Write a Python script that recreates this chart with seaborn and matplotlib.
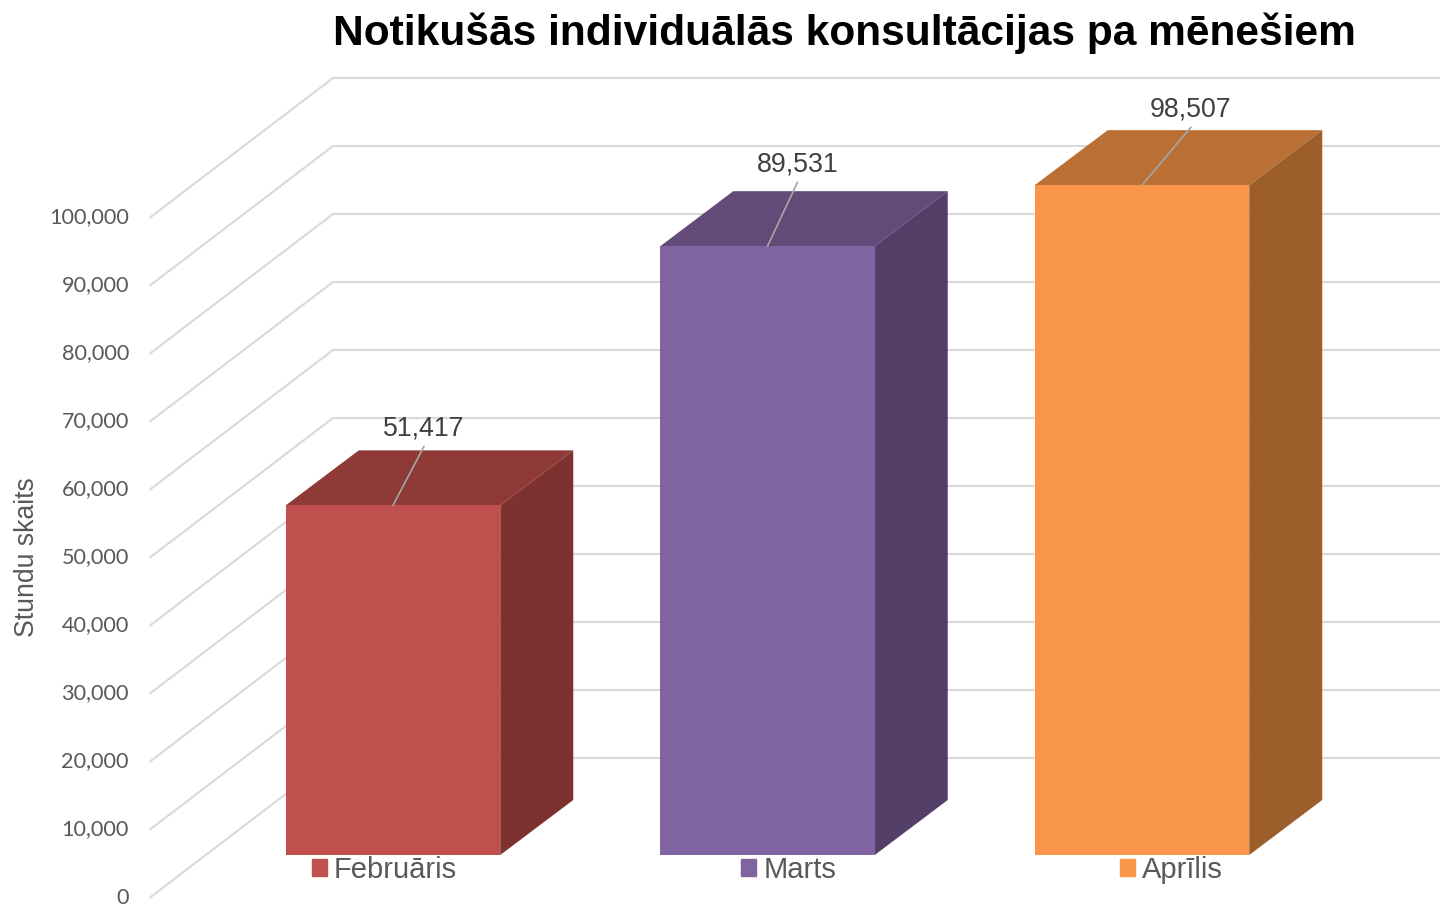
import matplotlib
matplotlib.use('Agg')
from matplotlib import pyplot as plt
from matplotlib.patches import Patch
import pandas as pd
import seaborn as sns

# Data
months = ['Februāris', 'Marts', 'Aprīlis']
hours = [51417, 89531, 98507]
grid_values = list(range(0, 100001, 10000))

front_colors = ['#C0504D', '#8064A2', '#F9964A']
top_colors = ['#8F3A37', '#634B79', '#BA7034']
side_colors = ['#7D3230', '#533F67', '#9C5F2B']

# Leader line ends, pixels from the middle of each bar's top edge
leader_dx = [31, 30, 49]
leader_dy = [59, 64, 58]

# Scale of the picture
W, H = 1440, 905
PX_PER_CAT = 374.5
PX_PER_UNIT = 6.8 / 1000
CAT0_PX = 393
ZERO_PX = 855


def cat_px(px):
    return px / PX_PER_CAT


def val_px(px):
    return px / PX_PER_UNIT


sns.set_theme(style='white')
plt.rcParams['font.family'] = ['Liberation Sans', 'DejaVu Sans']

df = pd.DataFrame({'Month': months, 'Hours': hours})

fig = plt.figure(figsize=(W / 100, H / 100), dpi=100)
ax = fig.add_axes([0, 0, 1, 1])

# Bars, front faces
bar_width = cat_px(214.5)
sns.barplot(data=df, x='Month', y='Hours', hue='Month', palette=front_colors, order=months,
            hue_order=months, width=bar_width, saturation=1, legend=False, ax=ax, zorder=3,
            linewidth=0)

# Depth of a bar
depth_x = cat_px(73)
depth_y = val_px(55)

# Top and side faces
for i, value in enumerate(hours):
    left = i - bar_width / 2
    right = i + bar_width / 2
    ax.fill([left, right, right + depth_x, left + depth_x],
            [value, value, value + depth_y, value + depth_y],
            color=top_colors[i], lw=0, zorder=2)
    ax.fill([right, right + depth_x, right + depth_x, right],
            [0, depth_y, value + depth_y, value],
            color=side_colors[i], lw=0, zorder=2)

# Walls of the 3d box: ticks sit lower than the bars' floor
wall_front_x = cat_px(150 - CAT0_PX)
wall_back_x = cat_px(333 - CAT0_PX)
wall_end_x = cat_px(W - CAT0_PX)
front_shift = val_px(ZERO_PX - 897.5)
back_shift = val_px(ZERO_PX - 758)

for value in grid_values:
    ax.plot([wall_front_x, wall_back_x, wall_end_x],
            [value + front_shift, value + back_shift, value + back_shift],
            color='#D9D9D9', lw=1.5, zorder=1, solid_joinstyle='miter')
    ax.text(cat_px(129 - CAT0_PX), value + front_shift, f'{value:,}', ha='right', va='center',
            fontsize=15.6, color='#595959', family=['Lato', 'DejaVu Sans'])

# Value labels with leader lines
for i, value in enumerate(hours):
    ax.annotate('', xy=(i, value), xytext=(leader_dx[i], leader_dy[i]), textcoords='offset pixels',
                arrowprops=dict(arrowstyle='-', color='#A6A6A6', lw=1.2, shrinkA=0, shrinkB=0), zorder=4)
    ax.annotate(f'{value:,}', xy=(i, value), xytext=(leader_dx[i], leader_dy[i] + 18),
                textcoords='offset pixels', ha='center', va='center', fontsize=19.3, color='#404040', zorder=4)

ax.set_xlim(cat_px(-CAT0_PX), cat_px(W - CAT0_PX))
ax.set_ylim(val_px(ZERO_PX - H), val_px(ZERO_PX))
ax.set_xlabel('')
ax.set_ylabel('')
ax.set_xticks([])
ax.set_yticks([])
sns.despine(ax=ax, left=True, bottom=True)

fig.suptitle('Notikušās individuālās konsultācijas pa mēnešiem', x=844.5 / W, y=1 - 33.5 / H,
             ha='center', va='center', fontsize=30.65, fontweight='bold', color='black')
fig.text(27 / W, 1 - 557 / H, 'Stundu skaits', rotation=90, ha='center', va='center',
         fontsize=19.2, color='#595959')

# Legend under the bars
handles = [Patch(color=c, label=m) for c, m in zip(front_colors, months)]
legend_size = 21
legend_px = legend_size * 100 / 72
ax.legend(handles=handles, ncol=3, frameon=False, loc='center',
          bbox_to_anchor=(767.5 / W, 1 - 870 / H), bbox_transform=fig.transFigure,
          fontsize=legend_size, labelcolor='#595959', handlelength=15 / legend_px,
          handleheight=15 / legend_px, handletextpad=7 / legend_px,
          columnspacing=284 / legend_px, borderpad=0, borderaxespad=0)

fig.savefig('out.png', dpi=100)
